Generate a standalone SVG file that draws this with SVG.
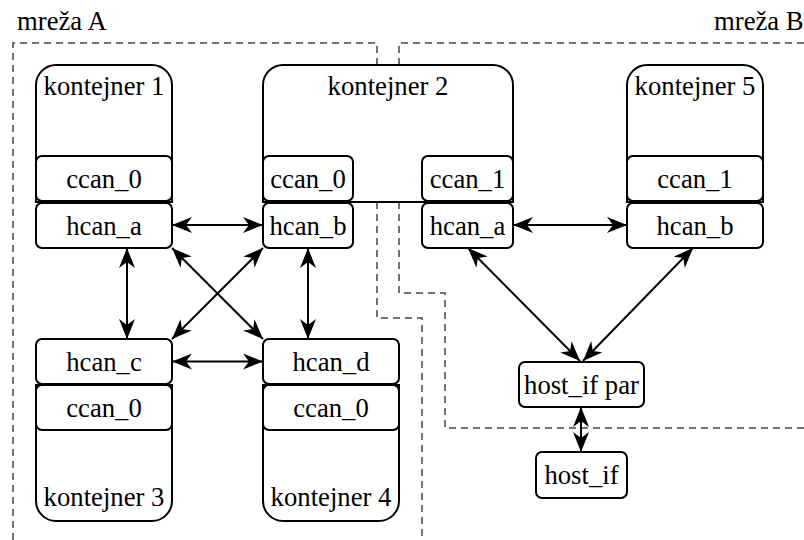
<svg xmlns="http://www.w3.org/2000/svg" width="804" height="540" viewBox="0 0 804 540">
<style>
text{font-family:"Liberation Serif","Times New Roman",serif;font-size:26.7px;fill:#000}
.c{text-anchor:middle}
.box{fill:#fff;stroke:#000;stroke-width:2}
.net{fill:none;stroke:#737373;stroke-width:2;stroke-dasharray:7 5}
.con{fill:none;stroke:#000;stroke-width:2;marker-start:url(#ah);marker-end:url(#ah)}
</style>
<defs>
<marker id="ah" viewBox="0 0 20 16" refX="20" refY="8" markerWidth="20" markerHeight="16" markerUnits="userSpaceOnUse" orient="auto-start-reverse">
<path d="M20,8 L0,0 L6,8 L0,16 Z" fill="#000"/>
</marker>
</defs>
<rect width="804" height="540" fill="#fff"/>
<g id="networks">
<path class="net" d="M13,540 L13,43 L377,43 L377,318 L422,318 L422,540"/>
<path class="net" d="M804,43 L399,43 L399,293 L445,293 L445,428 L804,428"/>
<text x="17" y="30">mreža A</text>
<text x="714" y="30">mreža B</text>
</g>
<g id="kontejner1">
<path class="box" d="M36,202 L36,85 A20,20 0 0 1 56,65 L152,65 A20,20 0 0 1 172,85 L172,202 Z"/>
<text class="c" x="104" y="95">kontejner 1</text>
<rect class="box" x="36" y="156" width="136" height="45" rx="6"/>
<text class="c" x="104" y="188">ccan_0</text>
<rect class="box" x="36" y="203" width="136" height="45" rx="6"/>
<text class="c" x="104" y="234.5">hcan_a</text>
</g>
<g id="kontejner2">
<path class="box" d="M263,202 L263,85 A20,20 0 0 1 283,65 L493,65 A20,20 0 0 1 513,85 L513,202 Z"/>
<text class="c" x="388" y="95">kontejner 2</text>
<rect class="box" x="263" y="156" width="90" height="45" rx="6"/>
<text class="c" x="308" y="188">ccan_0</text>
<rect class="box" x="263" y="203" width="90" height="45" rx="6"/>
<text class="c" x="308" y="234.5">hcan_b</text>
<rect class="box" x="422" y="156" width="91" height="45" rx="6"/>
<text class="c" x="467.5" y="188">ccan_1</text>
<rect class="box" x="422" y="203" width="91" height="45" rx="6"/>
<text class="c" x="467.5" y="234.5">hcan_a</text>
</g>
<g id="kontejner5">
<path class="box" d="M627,202 L627,85 A20,20 0 0 1 647,65 L743,65 A20,20 0 0 1 763,85 L763,202 Z"/>
<text class="c" x="695" y="95">kontejner 5</text>
<rect class="box" x="627" y="156" width="136" height="45" rx="6"/>
<text class="c" x="695" y="188">ccan_1</text>
<rect class="box" x="627" y="203" width="136" height="45" rx="6"/>
<text class="c" x="695" y="234.5">hcan_b</text>
</g>
<g id="kontejner3">
<path class="box" d="M36,385 L36,501 A20,20 0 0 0 56,521 L152,521 A20,20 0 0 0 172,501 L172,385 Z"/>
<text class="c" x="104" y="506">kontejner 3</text>
<rect class="box" x="36" y="339" width="136" height="45" rx="6"/>
<text class="c" x="104" y="370.5">hcan_c</text>
<rect class="box" x="36" y="385" width="136" height="45" rx="6"/>
<text class="c" x="104" y="416.5">ccan_0</text>
</g>
<g id="kontejner4">
<path class="box" d="M263,385 L263,501 A20,20 0 0 0 283,521 L379,521 A20,20 0 0 0 399,501 L399,385 Z"/>
<text class="c" x="331" y="506">kontejner 4</text>
<rect class="box" x="263" y="339" width="136" height="45" rx="6"/>
<text class="c" x="331" y="370.5">hcan_d</text>
<rect class="box" x="263" y="385" width="136" height="45" rx="6"/>
<text class="c" x="331" y="416.5">ccan_0</text>
</g>
<g id="hostifpar">
<rect class="box" x="519" y="362" width="125" height="45" rx="6"/>
<text class="c" x="581.5" y="393.5">host_if par</text>
</g>
<g id="hostif">
<rect class="box" x="536" y="452" width="91" height="46" rx="6"/>
<text class="c" x="581.5" y="484">host_if</text>
</g>
<g id="connectors">
<line class="con" x1="172" y1="225" x2="263" y2="225"/>
<line class="con" x1="513" y1="225" x2="627" y2="225"/>
<line class="con" x1="127" y1="248" x2="127" y2="339"/>
<line class="con" x1="308" y1="248" x2="308" y2="339"/>
<line class="con" x1="172" y1="248" x2="263" y2="339"/>
<line class="con" x1="263" y1="248" x2="172" y2="339"/>
<line class="con" x1="172" y1="361.5" x2="263" y2="361.5"/>
<line class="con" x1="468" y1="248" x2="580" y2="361"/>
<line class="con" x1="693" y1="248" x2="583" y2="361"/>
<line class="con" x1="581" y1="407" x2="581" y2="452"/>
</g>
</svg>
